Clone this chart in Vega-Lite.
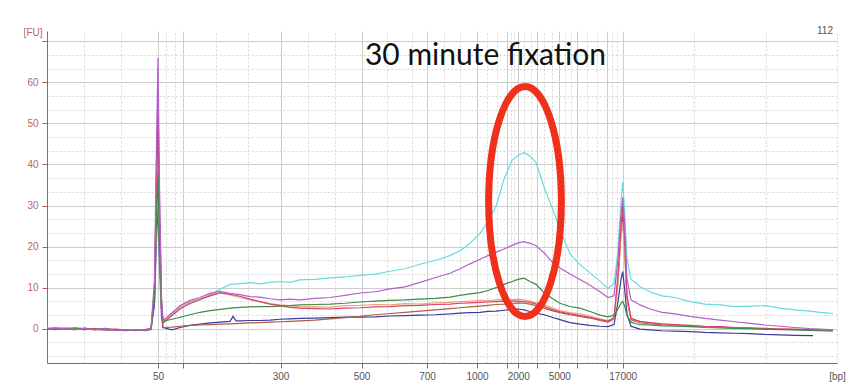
{
"$schema": "https://vega.github.io/schema/vega-lite/v6.json",
"width": 790, "height": 332,
"autosize": {"type": "none"},
"padding": {"left": 47, "top": 31, "right": 15, "bottom": 27},
"background": "white",
"config": {"view": {"stroke": null}, "font": "Liberation Sans"},
"datasets": {
"cyan": [{"t":20,"v":0.1},{"t":20.8,"v":-0.1},{"t":21.8,"v":0.2},{"t":22.8,"v":0},{"t":23.8,"v":-0.2},{"t":24.8,"v":0.1},{"t":25.8,"v":-0.1},{"t":26.8,"v":-0.3},{"t":27.8,"v":-0.2},{"t":28.8,"v":-0.4},{"t":29.8,"v":-0.3},{"t":30.4,"v":-0.1},{"t":30.75,"v":6},{"t":30.95,"v":30},{"t":31.1,"v":47},{"t":31.25,"v":25},{"t":31.45,"v":6},{"t":31.6,"v":1.8},{"t":32.5,"v":3.6},{"t":33.3,"v":5.0},{"t":34.3,"v":6.1},{"t":35.3,"v":7.0},{"t":36.3,"v":8.2},{"t":37.3,"v":9.6},{"t":38.3,"v":10.8},{"t":39.3,"v":11.0},{"t":40.3,"v":11.2},{"t":41.3,"v":10.9},{"t":42.3,"v":11.3},{"t":43.3,"v":11.5},{"t":44.3,"v":11.3},{"t":45.3,"v":11.9},{"t":46.8,"v":12.0},{"t":48.3,"v":12.4},{"t":49.8,"v":12.6},{"t":51.3,"v":13.0},{"t":52.8,"v":13.3},{"t":54.3,"v":14.0},{"t":55.8,"v":14.6},{"t":57.3,"v":15.7},{"t":58.8,"v":16.6},{"t":60.3,"v":17.8},{"t":61.3,"v":19.0},{"t":62.3,"v":20.8},{"t":63.3,"v":23.2},{"t":64.1,"v":26.0},{"t":64.9,"v":29.8},{"t":65.7,"v":36.4},{"t":66.5,"v":41.0},{"t":67.1,"v":42.2},{"t":67.7,"v":42.9},{"t":68.3,"v":42.0},{"t":68.9,"v":40.5},{"t":69.7,"v":34.5},{"t":70.5,"v":29.5},{"t":71.3,"v":24.2},{"t":72.3,"v":18.2},{"t":73.3,"v":15.6},{"t":74.3,"v":13.6},{"t":75.3,"v":11.6},{"t":76.1,"v":9.8},{"t":76.7,"v":11},{"t":77.1,"v":19},{"t":77.4,"v":31},{"t":77.57,"v":35.8},{"t":77.75,"v":29},{"t":78,"v":17},{"t":78.4,"v":12},{"t":78.9,"v":11.2},{"t":79.3,"v":10.2},{"t":80.3,"v":9.0},{"t":81.5,"v":8.0},{"t":82.8,"v":7.6},{"t":84.3,"v":6.6},{"t":85.8,"v":6.0},{"t":87.3,"v":5.8},{"t":88.8,"v":5.4},{"t":90.3,"v":5.5},{"t":91.8,"v":5.6},{"t":93.3,"v":5.0},{"t":94.8,"v":4.6},{"t":96.3,"v":4.3},{"t":97.3,"v":4.0},{"t":98.6,"v":3.7}],
"violet": [{"t":20,"v":-0.1},{"t":20.8,"v":0.2},{"t":21.8,"v":0},{"t":22.8,"v":-0.2},{"t":23.8,"v":0.1},{"t":24.8,"v":-0.2},{"t":25.8,"v":0},{"t":26.8,"v":-0.4},{"t":27.8,"v":-0.3},{"t":28.8,"v":-0.2},{"t":29.8,"v":-0.4},{"t":30.4,"v":0},{"t":30.75,"v":12},{"t":30.95,"v":45},{"t":31.1,"v":66},{"t":31.25,"v":35},{"t":31.45,"v":8},{"t":31.6,"v":2.0},{"t":32.5,"v":3.9},{"t":33.3,"v":5.6},{"t":34.3,"v":6.9},{"t":35.3,"v":7.6},{"t":36.3,"v":8.6},{"t":37.3,"v":9.1},{"t":38.3,"v":8.6},{"t":39.3,"v":8.3},{"t":40.3,"v":7.8},{"t":41.3,"v":7.7},{"t":42.3,"v":7.3},{"t":43.3,"v":7.0},{"t":44.3,"v":7.2},{"t":45.3,"v":7.0},{"t":46.8,"v":7.4},{"t":48.3,"v":7.6},{"t":49.8,"v":8.1},{"t":51.3,"v":8.7},{"t":52.8,"v":9.0},{"t":54.3,"v":9.7},{"t":55.8,"v":10.2},{"t":57.3,"v":11.3},{"t":58.8,"v":12.4},{"t":60.3,"v":13.5},{"t":61.3,"v":14.6},{"t":62.3,"v":15.8},{"t":63.3,"v":16.9},{"t":64.1,"v":17.8},{"t":64.9,"v":18.6},{"t":65.7,"v":19.4},{"t":66.5,"v":20.3},{"t":67.1,"v":20.9},{"t":67.7,"v":21.2},{"t":68.3,"v":20.8},{"t":68.9,"v":20.2},{"t":69.7,"v":18.5},{"t":70.5,"v":16.3},{"t":71.3,"v":14.8},{"t":72.3,"v":13.3},{"t":73.3,"v":12.0},{"t":74.3,"v":10.6},{"t":75.3,"v":9.0},{"t":76.1,"v":7.6},{"t":76.7,"v":8.0},{"t":77.1,"v":17},{"t":77.4,"v":28},{"t":77.57,"v":32},{"t":77.75,"v":26},{"t":78,"v":12},{"t":78.4,"v":7.0},{"t":78.9,"v":6.4},{"t":79.3,"v":5.8},{"t":80.3,"v":4.8},{"t":81.5,"v":4.0},{"t":82.8,"v":3.6},{"t":84.3,"v":3.0},{"t":85.8,"v":2.5},{"t":87.3,"v":2.1},{"t":88.8,"v":1.7},{"t":90.3,"v":1.3},{"t":91.8,"v":0.9},{"t":93.3,"v":0.6},{"t":94.8,"v":0.3},{"t":96.3,"v":0},{"t":97.3,"v":-0.1},{"t":98.6,"v":-0.3}],
"orange": [{"t":20,"v":0.2},{"t":20.8,"v":0},{"t":21.8,"v":-0.2},{"t":22.8,"v":0.1},{"t":23.8,"v":0},{"t":24.8,"v":-0.3},{"t":25.8,"v":-0.1},{"t":26.8,"v":-0.2},{"t":27.8,"v":-0.4},{"t":28.8,"v":-0.3},{"t":29.8,"v":-0.2},{"t":30.4,"v":0.1},{"t":30.75,"v":8},{"t":30.95,"v":25},{"t":31.1,"v":35},{"t":31.25,"v":20},{"t":31.45,"v":5},{"t":31.6,"v":1.8},{"t":32.5,"v":3.8},{"t":33.3,"v":5.3},{"t":34.3,"v":6.6},{"t":35.3,"v":7.3},{"t":36.3,"v":8.2},{"t":37.3,"v":8.8},{"t":38.3,"v":8.2},{"t":39.3,"v":7.6},{"t":40.3,"v":7.1},{"t":41.3,"v":6.5},{"t":42.3,"v":6.1},{"t":43.3,"v":5.8},{"t":44.3,"v":5.6},{"t":45.3,"v":5.3},{"t":46.8,"v":5.4},{"t":48.3,"v":5.2},{"t":49.8,"v":5.6},{"t":51.3,"v":5.7},{"t":52.8,"v":5.9},{"t":54.3,"v":5.8},{"t":55.8,"v":6.1},{"t":57.3,"v":6.0},{"t":58.8,"v":6.3},{"t":60.3,"v":6.4},{"t":61.3,"v":6.6},{"t":62.3,"v":6.7},{"t":63.3,"v":6.9},{"t":64.1,"v":6.8},{"t":64.9,"v":7.0},{"t":65.7,"v":7.1},{"t":66.5,"v":7.0},{"t":67.1,"v":7.2},{"t":67.7,"v":7.0},{"t":68.3,"v":6.8},{"t":68.9,"v":6.3},{"t":69.7,"v":5.8},{"t":70.5,"v":5.1},{"t":71.3,"v":4.4},{"t":72.3,"v":3.9},{"t":73.3,"v":3.6},{"t":74.3,"v":3.0},{"t":75.3,"v":2.4},{"t":76.1,"v":2.0},{"t":76.7,"v":2.6},{"t":77.1,"v":11},{"t":77.4,"v":22},{"t":77.57,"v":26},{"t":77.75,"v":19},{"t":78,"v":7},{"t":78.4,"v":2.6},{"t":78.9,"v":2.0},{"t":79.3,"v":1.7},{"t":80.3,"v":1.4},{"t":81.5,"v":1.1},{"t":82.8,"v":0.9},{"t":84.3,"v":0.7},{"t":85.8,"v":0.5},{"t":87.3,"v":0.4},{"t":88.8,"v":0.3},{"t":90.3,"v":0.1},{"t":91.8,"v":0},{"t":93.3,"v":0},{"t":94.8,"v":-0.2},{"t":96.3,"v":-0.2},{"t":97.3,"v":-0.3},{"t":98.6,"v":-0.4}],
"crimson": [{"t":20,"v":0},{"t":20.8,"v":0.1},{"t":21.8,"v":-0.1},{"t":22.8,"v":-0.2},{"t":23.8,"v":0.1},{"t":24.8,"v":-0.1},{"t":25.8,"v":-0.3},{"t":26.8,"v":-0.1},{"t":27.8,"v":-0.3},{"t":28.8,"v":-0.4},{"t":29.8,"v":-0.2},{"t":30.4,"v":0},{"t":30.75,"v":10},{"t":30.95,"v":40},{"t":31.1,"v":57},{"t":31.25,"v":30},{"t":31.45,"v":7},{"t":31.6,"v":1.4},{"t":32.5,"v":3.2},{"t":33.3,"v":4.8},{"t":34.3,"v":6.2},{"t":35.3,"v":7.1},{"t":36.3,"v":8.0},{"t":37.3,"v":8.7},{"t":38.3,"v":8.4},{"t":39.3,"v":7.9},{"t":40.3,"v":7.2},{"t":41.3,"v":6.6},{"t":42.3,"v":6.0},{"t":43.3,"v":5.6},{"t":44.3,"v":5.2},{"t":45.3,"v":5.0},{"t":46.8,"v":4.9},{"t":48.3,"v":4.8},{"t":49.8,"v":5.0},{"t":51.3,"v":5.1},{"t":52.8,"v":5.3},{"t":54.3,"v":5.4},{"t":55.8,"v":5.6},{"t":57.3,"v":5.7},{"t":58.8,"v":5.9},{"t":60.3,"v":6.0},{"t":61.3,"v":6.2},{"t":62.3,"v":6.3},{"t":63.3,"v":6.4},{"t":64.1,"v":6.5},{"t":64.9,"v":6.6},{"t":65.7,"v":6.7},{"t":66.5,"v":6.8},{"t":67.1,"v":6.7},{"t":67.7,"v":6.6},{"t":68.3,"v":6.4},{"t":68.9,"v":6.0},{"t":69.7,"v":5.4},{"t":70.5,"v":4.7},{"t":71.3,"v":4.1},{"t":72.3,"v":3.6},{"t":73.3,"v":3.2},{"t":74.3,"v":2.8},{"t":75.3,"v":2.2},{"t":76.1,"v":1.8},{"t":76.7,"v":2.8},{"t":77.1,"v":13},{"t":77.4,"v":25},{"t":77.57,"v":30},{"t":77.75,"v":22},{"t":78,"v":8},{"t":78.4,"v":2.6},{"t":78.9,"v":2.1},{"t":79.3,"v":1.8},{"t":80.3,"v":1.5},{"t":81.5,"v":1.2},{"t":82.8,"v":1.0},{"t":84.3,"v":0.8},{"t":85.8,"v":0.6},{"t":87.3,"v":0.5},{"t":88.8,"v":0.3},{"t":90.3,"v":0.2},{"t":91.8,"v":0.1},{"t":93.3,"v":-0.1},{"t":94.8,"v":-0.1},{"t":96.3,"v":-0.2},{"t":97.3,"v":-0.3},{"t":98.6,"v":-0.3}],
"maroon": [{"t":20,"v":-0.1},{"t":20.8,"v":0.1},{"t":21.8,"v":0.1},{"t":22.8,"v":-0.1},{"t":23.8,"v":-0.2},{"t":24.8,"v":0},{"t":25.8,"v":-0.2},{"t":26.8,"v":-0.4},{"t":27.8,"v":-0.2},{"t":28.8,"v":-0.5},{"t":29.8,"v":-0.3},{"t":30.4,"v":-0.1},{"t":30.75,"v":9},{"t":30.95,"v":35},{"t":31.1,"v":50},{"t":31.25,"v":26},{"t":31.45,"v":5},{"t":31.6,"v":0.3},{"t":32.5,"v":0.4},{"t":33.3,"v":0.6},{"t":34.3,"v":0.8},{"t":35.3,"v":0.9},{"t":36.3,"v":1.0},{"t":37.3,"v":1.1},{"t":38.3,"v":1.2},{"t":39.3,"v":1.3},{"t":40.3,"v":1.4},{"t":41.3,"v":1.5},{"t":42.3,"v":1.6},{"t":43.3,"v":1.7},{"t":44.3,"v":1.8},{"t":45.3,"v":1.9},{"t":46.8,"v":2.1},{"t":48.3,"v":2.4},{"t":49.8,"v":2.7},{"t":51.3,"v":3.0},{"t":52.8,"v":3.4},{"t":54.3,"v":3.7},{"t":55.8,"v":4.0},{"t":57.3,"v":4.3},{"t":58.8,"v":4.6},{"t":60.3,"v":4.9},{"t":61.3,"v":5.1},{"t":62.3,"v":5.3},{"t":63.3,"v":5.5},{"t":64.1,"v":5.7},{"t":64.9,"v":5.9},{"t":65.7,"v":6.0},{"t":66.5,"v":6.2},{"t":67.1,"v":6.3},{"t":67.7,"v":6.2},{"t":68.3,"v":6.0},{"t":68.9,"v":5.6},{"t":69.7,"v":5.0},{"t":70.5,"v":4.4},{"t":71.3,"v":3.9},{"t":72.3,"v":3.4},{"t":73.3,"v":3.0},{"t":74.3,"v":2.6},{"t":75.3,"v":2.0},{"t":76.1,"v":1.6},{"t":76.7,"v":2.4},{"t":77.1,"v":12},{"t":77.4,"v":24},{"t":77.57,"v":28},{"t":77.75,"v":20},{"t":78,"v":7},{"t":78.4,"v":2.2},{"t":78.9,"v":1.8},{"t":79.3,"v":1.5},{"t":80.3,"v":1.2},{"t":81.5,"v":1.0},{"t":82.8,"v":0.8},{"t":84.3,"v":0.6},{"t":85.8,"v":0.5},{"t":87.3,"v":0.3},{"t":88.8,"v":0.2},{"t":90.3,"v":0.1},{"t":91.8,"v":-0.1},{"t":93.3,"v":-0.1},{"t":94.8,"v":-0.2},{"t":96.3,"v":-0.3},{"t":97.3,"v":-0.3},{"t":98.6,"v":-0.4}],
"green": [{"t":20,"v":0.1},{"t":20.8,"v":-0.2},{"t":21.8,"v":0},{"t":22.8,"v":0.2},{"t":23.8,"v":-0.1},{"t":24.8,"v":-0.2},{"t":25.8,"v":0.1},{"t":26.8,"v":-0.3},{"t":27.8,"v":-0.5},{"t":28.8,"v":-0.3},{"t":29.8,"v":-0.4},{"t":30.4,"v":0},{"t":30.75,"v":7},{"t":30.95,"v":27},{"t":31.1,"v":38},{"t":31.25,"v":20},{"t":31.45,"v":5},{"t":31.6,"v":1.8},{"t":32.5,"v":2.3},{"t":33.3,"v":2.8},{"t":34.3,"v":3.4},{"t":35.3,"v":4.0},{"t":36.3,"v":4.4},{"t":37.3,"v":4.7},{"t":38.3,"v":5.0},{"t":39.3,"v":5.2},{"t":40.3,"v":5.3},{"t":41.3,"v":5.4},{"t":42.3,"v":5.4},{"t":43.3,"v":5.5},{"t":44.3,"v":5.6},{"t":45.3,"v":5.8},{"t":46.8,"v":5.9},{"t":48.3,"v":6.0},{"t":49.8,"v":6.2},{"t":51.3,"v":6.5},{"t":52.8,"v":6.7},{"t":54.3,"v":6.9},{"t":55.8,"v":7.0},{"t":57.3,"v":7.2},{"t":58.8,"v":7.4},{"t":60.3,"v":7.7},{"t":61.3,"v":8.1},{"t":62.3,"v":8.5},{"t":63.3,"v":8.8},{"t":64.1,"v":9.3},{"t":64.9,"v":10.0},{"t":65.7,"v":10.8},{"t":66.5,"v":11.5},{"t":67.1,"v":12.0},{"t":67.7,"v":12.3},{"t":68.3,"v":11.5},{"t":68.9,"v":10.8},{"t":69.7,"v":8.8},{"t":70.5,"v":7.4},{"t":71.3,"v":6.2},{"t":72.3,"v":5.4},{"t":73.3,"v":5.0},{"t":74.3,"v":4.2},{"t":75.3,"v":3.3},{"t":76.1,"v":2.9},{"t":76.7,"v":3.3},{"t":77.1,"v":4.8},{"t":77.4,"v":6.2},{"t":77.57,"v":6.6},{"t":77.75,"v":5.6},{"t":78,"v":3.2},{"t":78.4,"v":1.6},{"t":78.9,"v":1.2},{"t":79.3,"v":1.0},{"t":80.3,"v":0.9},{"t":81.5,"v":0.7},{"t":82.8,"v":0.6},{"t":84.3,"v":0.5},{"t":85.8,"v":0.3},{"t":87.3,"v":0.2},{"t":88.8,"v":0.1},{"t":90.3,"v":0},{"t":91.8,"v":-0.1},{"t":93.3,"v":-0.2},{"t":94.8,"v":-0.3},{"t":96.3,"v":-0.4},{"t":97.3,"v":-0.5},{"t":98.6,"v":-0.6}],
"blue": [{"t":20,"v":0},{"t":20.8,"v":0.1},{"t":21.8,"v":-0.1},{"t":22.8,"v":0},{"t":23.8,"v":0.1},{"t":24.8,"v":-0.2},{"t":25.8,"v":-0.2},{"t":26.8,"v":-0.3},{"t":27.8,"v":-0.4},{"t":28.8,"v":-0.2},{"t":29.8,"v":-0.5},{"t":30.4,"v":-0.2},{"t":30.75,"v":6},{"t":30.95,"v":22},{"t":31.1,"v":30},{"t":31.25,"v":16},{"t":31.45,"v":3},{"t":31.6,"v":0.3},{"t":32.5,"v":-0.3},{"t":33.3,"v":0.3},{"t":34.3,"v":0.8},{"t":35.3,"v":1.1},{"t":36.3,"v":1.4},{"t":37.3,"v":1.6},{"t":38.3,"v":1.8},{"t":38.6,"v":3.0},{"t":38.9,"v":1.9},{"t":39.3,"v":1.9},{"t":40.3,"v":2.0},{"t":41.3,"v":2.0},{"t":42.3,"v":2.1},{"t":43.3,"v":2.3},{"t":44.3,"v":2.4},{"t":45.3,"v":2.5},{"t":46.8,"v":2.6},{"t":48.3,"v":2.7},{"t":49.8,"v":2.8},{"t":51.3,"v":2.8},{"t":52.8,"v":2.9},{"t":54.3,"v":3.1},{"t":55.8,"v":3.2},{"t":57.3,"v":3.3},{"t":58.8,"v":3.4},{"t":60.3,"v":3.6},{"t":61.3,"v":3.8},{"t":62.3,"v":3.9},{"t":63.3,"v":4.0},{"t":64.1,"v":4.2},{"t":64.9,"v":4.3},{"t":65.7,"v":4.5},{"t":66.5,"v":4.7},{"t":67.1,"v":4.8},{"t":67.7,"v":4.6},{"t":68.3,"v":4.2},{"t":68.9,"v":3.8},{"t":69.7,"v":3.4},{"t":70.5,"v":2.8},{"t":71.3,"v":2.2},{"t":72.3,"v":1.5},{"t":73.3,"v":1.1},{"t":74.3,"v":0.8},{"t":75.3,"v":0.6},{"t":76.1,"v":0.5},{"t":76.7,"v":1.0},{"t":77.1,"v":6.5},{"t":77.4,"v":12},{"t":77.57,"v":13.9},{"t":77.75,"v":10},{"t":78,"v":3.5},{"t":78.4,"v":0.6},{"t":78.9,"v":0.2},{"t":79.3,"v":-0.1},{"t":80.3,"v":-0.3},{"t":81.5,"v":-0.5},{"t":82.8,"v":-0.6},{"t":84.3,"v":-0.7},{"t":85.8,"v":-0.9},{"t":87.3,"v":-1.0},{"t":88.8,"v":-1.1},{"t":90.3,"v":-1.2},{"t":91.8,"v":-1.4},{"t":93.3,"v":-1.5},{"t":94.8,"v":-1.6},{"t":96.6,"v":-1.7}]
},
"resolve": {"axis": {"x": "independent", "y": "independent"}},
"layer": [
{"data": {"name": "cyan"}, "mark": {"type": "line", "color": "#66dcdc", "strokeWidth": 1.2},
 "encoding": {
  "x": {"field": "t", "type": "quantitative", "scale": {"domain": [20, 99], "nice": false, "zero": false},
   "axis": {"orient": "top", "values": [23.7, 27.4, 31.93, 32.77, 36.85, 40.1, 46.05, 48.75, 54.0, 56.5, 59.67, 61.33, 63.99, 64.98, 66.36, 66.74, 67.74, 68.36, 69.72, 70.48, 71.84, 72.44, 74.02, 74.98, 76.49, 77.03, 84.71, 91.86, 99],
    "title": null, "labels": false, "ticks": false, "domain": false, "grid": true, "gridColor": "#d6d6d6", "gridDash": [2, 2]}},
  "y": {"field": "v", "type": "quantitative", "scale": {"domain": [-8.35, 72.5], "nice": false, "zero": false},
   "axis": {"orient": "right", "values": [-6.67, -3.33, 3.33, 6.67, 13.33, 16.67, 23.33, 26.67, 33.33, 36.67, 43.33, 46.67, 53.33, 56.67, 63.33, 66.67],
    "title": null, "labels": false, "ticks": false, "domain": false, "grid": true, "gridColor": "#d6d6d6", "gridDash": [2, 2]}}}},
{"encoding": {
  "x": {"field": "t", "type": "quantitative", "scale": {"domain": [20, 99], "nice": false, "zero": false},
   "axis": {"orient": "bottom", "values": [31.1, 33.6, 43.35, 51.45, 58, 63, 65.97, 67.13, 68.97, 71.23, 73.05, 75.95, 77.57],
    "labelExpr": "datum.value==31.1?'50':datum.value==43.35?'300':datum.value==51.45?'500':datum.value==58?'700':datum.value==63?'1000':datum.value==67.13?'2000':datum.value==71.23?'5000':datum.value==77.57?'17000':''",
    "title": "[bp]", "titleX": 790, "titleY": 13, "titleAlign": "center", "titleBaseline": "middle", "titleFontWeight": "normal", "titleFontSize": 10, "titleColor": "#555555",
    "labelFontSize": 10, "labelColor": "#555555", "labelFlush": false, "labelOverlap": false, "labelPadding": 3,
    "domainColor": "#707070", "tickColor": "#707070", "tickSize": 5, "grid": true, "gridColor": "#cdcdcd"}},
  "y": {"field": "v", "type": "quantitative", "scale": {"domain": [-8.35, 72.5], "nice": false, "zero": false},
   "axis": {"orient": "left", "values": [0, 10, 20, 30, 40, 50, 60, 70], "labelExpr": "datum.value==70?'':datum.label",
    "title": "[FU]", "titleAngle": 0, "titleX": -5, "titleY": 1, "titleAlign": "right", "titleBaseline": "middle", "titleFontWeight": "normal", "titleFontSize": 10, "titleColor": "#b8675f",
    "labelColor": "#b8675f", "labelFontSize": 10, "labelPadding": 4, "domainColor": "#bb5a55", "tickColor": "#bb5a55", "tickSize": 5, "grid": true, "gridColor": "#cdcdcd"}}},
 "layer": [
  {"data": {"name": "blue"}, "mark": {"type": "line", "color": "#3c3c9c", "strokeWidth": 1.2}},
  {"data": {"name": "maroon"}, "mark": {"type": "line", "color": "#b05a4a", "strokeWidth": 1.2}},
  {"data": {"name": "orange"}, "mark": {"type": "line", "color": "#e8a67c", "strokeWidth": 1.2}},
  {"data": {"name": "crimson"}, "mark": {"type": "line", "color": "#d8406a", "strokeWidth": 1.2}},
  {"data": {"name": "green"}, "mark": {"type": "line", "color": "#3e8a4a", "strokeWidth": 1.2}},
  {"data": {"name": "violet"}, "mark": {"type": "line", "color": "#b55fcc", "strokeWidth": 1.2}},
  {"data": {"values": [{"t": 67.8, "v": 30.98}]},
   "mark": {"type": "point", "shape": "M0,-1C0.1745,-1,0.316,-0.5523,0.316,0C0.316,0.5523,0.1745,1,0,1C-0.1745,1,-0.316,0.5523,-0.316,0C-0.316,-0.5523,-0.1745,-1,0,-1Z", "size": 52900, "filled": false, "stroke": "#f0301a", "strokeWidth": 7, "opacity": 1}},
  {"data": {"values": [{"t": 63.85, "v": 64.3, "label": "30 minute fixation"}]},
   "mark": {"type": "text", "font": "Lato", "fontSize": 30, "color": "#111111", "align": "center", "baseline": "alphabetic"},
   "encoding": {"text": {"field": "label"}}},
  {"data": {"values": [{"t": 98.6, "v": 72.5, "label": "112"}]},
   "mark": {"type": "text", "fontSize": 10, "color": "#555555", "align": "right", "baseline": "middle"},
   "encoding": {"text": {"field": "label"}}}
 ]}
]
}
